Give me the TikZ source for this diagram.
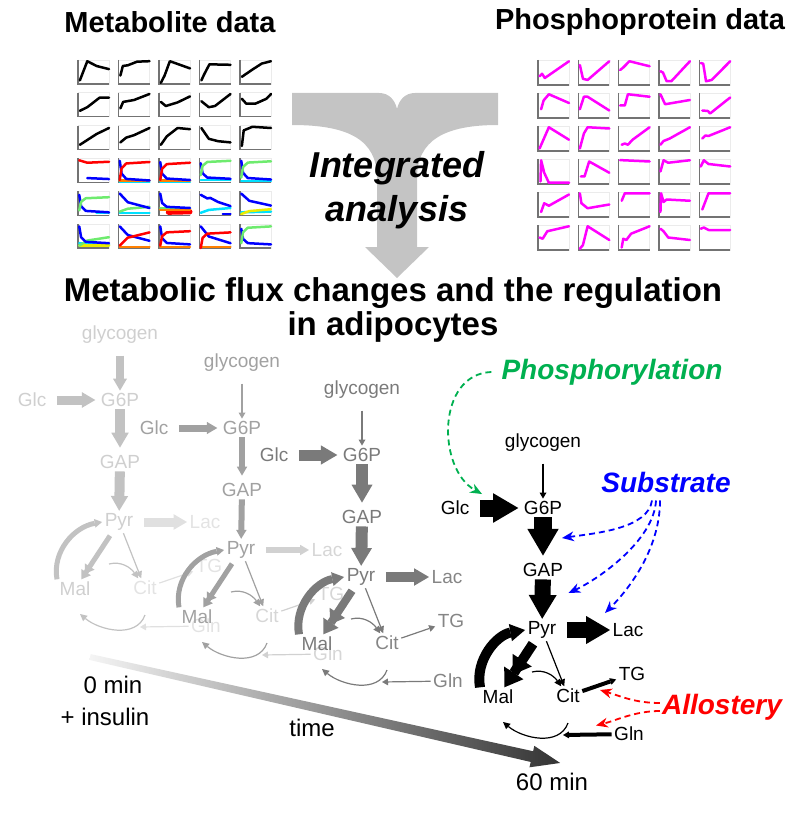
\documentclass[tikz,border=0pt]{standalone}
\usepackage{fontspec}
\setmainfont{Liberation Sans}
\usetikzlibrary{arrows.meta, positioning, calc}

\definecolor{phosgreen}{RGB}{0,176,80}
\definecolor{lgreen}{RGB}{110,235,110}
\definecolor{pmag}{RGB}{255,0,255}
\definecolor{pcyan}{RGB}{0,225,255}
\definecolor{pyellow}{RGB}{235,235,0}
\definecolor{porange}{RGB}{255,128,0}
\definecolor{tgray}{RGB}{196,196,196}

\newcommand\mcell[3]{%
  \begin{scope}[shift={({78+40.5*#1},{-84-32.8*#2})},x=31pt,y=24pt]
    \draw[plotframe] (0,0) rectangle (1,1);
    \draw[plotaxis] (0,1) -- (0,0) -- (1,0);
    #3
  \end{scope}}
\newcommand\pcell[3]{%
  \begin{scope}[shift={({538+40.3*#1},{-85-33*#2})},x=31pt,y=25pt]
    \draw[plotframe] (0,0) rectangle (1,1);
    \draw[plotaxis] (0,1) -- (0,0) -- (1,0);
    \draw[mk,pmag] #3;
  \end{scope}}
\newcommand\csat[3]{\draw[mk,#1] (.04,#2) -- (.1,{#2+.65*(#3-#2)}) -- (.25,{#2+.92*(#3-#2)}) -- (1,#3);}
\newcommand\cslow[3]{\draw[mk,#1] (.04,#2) -- (.3,{#2+.6*(#3-#2)}) -- (1,#3);}
\newcommand\clin[3]{\draw[mk,#1] (.04,#2) -- (1,#3);}

\begin{document}
\begin{tikzpicture}[x=1pt, y=1pt,
  plotframe/.style={draw=black!8, line width=.6pt},
  plotaxis/.style={draw=black!55, line width=1.4pt},
  mk/.style={line width=2.5pt, line join=round, line cap=round},
  met/.style={font=\fontsize{19}{21}\selectfont, inner sep=2.5pt},
  bigtitle/.style={font=\bfseries\fontsize{29}{31}\selectfont},
  reg/.style={font=\bfseries\itshape\fontsize{28}{30}\selectfont, inner sep=2pt},
  tlab/.style={font=\fontsize{24}{26}\selectfont, inner sep=2pt},
  tflux/.style={line width=1.2pt, -{Triangle[width=7pt,length=7pt,line width=0pt]}},
  preg/.style={line width=1.8pt, dash pattern=on 6pt off 4pt, -{Stealth[length=12pt,width=10pt,line width=0pt]}},
  flux/.code={%
    \pgfmathsetmacro\fluxh{max(1.75*#1,7)}%
    \pgfmathsetmacro\fluxl{max(0.85*\fluxh,6)}%
    \edef\fluxset{\noexpand\tikzset{line width=#1pt,-{Triangle[width=\fluxh pt,length=\fluxl pt,line width=0pt]}}}%
    \fluxset},
  jflux/.code={%
    \pgfmathsetmacro\fluxh{max(2.3*#1,8)}%
    \pgfmathsetmacro\fluxl{0.75*\fluxh}%
    \edef\fluxset{\noexpand\tikzset{line width=#1pt,-{Triangle[width=\fluxh pt,length=\fluxl pt,line width=0pt,sep=-2pt]Triangle[width=\fluxh pt,length=\fluxl pt,line width=0pt]}}}%
    \fluxset}]
  \useasboundingbox (0,0) rectangle (800,-813);

  \node[bigtitle] (metdata) at (170,-22) {Metabolite data};
  \node[bigtitle] (phosdata) at (640,-22) {Phosphoprotein data};

  % metabolite time courses
  \mcell{0}{0}{\draw[mk] (.06,.15) -- (.3,.95) -- (.6,.75) -- (1,.62);}
  \mcell{1}{0}{\draw[mk] (.06,.35) -- (.14,.75) -- (.3,.78) -- (.6,.93) -- (1,.95);}
  \mcell{2}{0}{\draw[mk] (.06,.05) -- (.18,.35) -- (.35,.95) -- (1,.65);}
  \mcell{3}{0}{\draw[mk] (.06,.15) -- (.15,.4) -- (.32,.82) -- (1,.8);}
  \mcell{4}{0}{\draw[mk] (.06,.3) -- (.4,.6) -- (.7,.85) -- (1,.95);}
  \mcell{0}{1}{\draw[mk] (.06,.25) -- (.3,.4) -- (.7,.8) -- (1,.8);}
  \mcell{1}{1}{\draw[mk] (.06,.35) -- (.15,.62) -- (.5,.7) -- (1,.95);}
  \mcell{2}{1}{\draw[mk] (.06,.62) -- (.22,.45) -- (.6,.6) -- (1,.85);}
  \mcell{3}{1}{\draw[mk] (.06,.65) -- (.3,.4) -- (.5,.45) -- (1,.95);}
  \mcell{4}{1}{\draw[mk] (.06,.75) -- (.2,.55) -- (.5,.55) -- (.85,.75) -- (1,.95);}
  \mcell{0}{2}{\draw[mk] (.06,.2) -- (.3,.4) -- (.6,.65) -- (1,.9);}
  \mcell{1}{2}{\draw[mk] (.06,.3) -- (.25,.5) -- (.5,.6) -- (1,.9);}
  \mcell{2}{2}{\draw[mk] (.06,.2) -- (.25,.55) -- (.6,.9) -- (1,.85);}
  \mcell{3}{2}{\draw[mk] (.06,.9) -- (.3,.45) -- (.6,.35) -- (1,.3);}
  \mcell{4}{2}{\draw[mk] (.06,.15) -- (.12,.8) -- (.4,.95) -- (1,.9);}
  \mcell{0}{3}{\draw[mk,red] (.04,.92) -- (.3,.82) -- (1,.86); \draw[mk,blue] (.3,.18) -- (1,.14);}
  \mcell{1}{3}{\clin{pcyan}{.02}{.02}\clin{porange}{.07}{.07}\csat{blue}{.9}{.08}\csat{red}{.1}{.85}}
  \mcell{2}{3}{\clin{pcyan}{.02}{.02}\clin{porange}{.07}{.07}\csat{blue}{.85}{.1}\csat{red}{.1}{.82}}
  \mcell{3}{3}{\clin{pcyan}{.1}{.1}\csat{blue}{.8}{.15}\csat{lgreen}{.3}{.9}}
  \mcell{4}{3}{\clin{pcyan}{.05}{.05}\csat{blue}{.9}{.12}\csat{lgreen}{.2}{.88}}
  \mcell{0}{4}{\draw[mk,pcyan] (.6,.1) -- (1,.1); \csat{blue}{.85}{.12}\csat{lgreen}{.2}{.75}}
  \mcell{1}{4}{\clin{pcyan}{.1}{.1}\cslow{lgreen}{.15}{.35}\cslow{blue}{.9}{.3}}
  \mcell{2}{4}{\draw[mk,red,line width=5pt] (.3,.12) -- (1,.14); \clin{porange}{.24}{.24}\clin{lgreen}{.3}{.3}\csat{blue}{.9}{.3}}
  \mcell{3}{4}{\draw[mk,blue] (.75,.06) -- (1,.06); \cslow{pcyan}{.1}{.3}\draw[mk,blue] (.04,.85) -- (.25,.7) -- (.35,.72) -- (.6,.55) -- (1,.38);}
  \mcell{4}{4}{\clin{pcyan}{.12}{.15}\cslow{pyellow}{.05}{.25}\cslow{blue}{.9}{.4}}
  \mcell{0}{5}{\clin{pcyan}{.2}{.15}\clin{pyellow}{.1}{.1}\cslow{lgreen}{.1}{.45}\csat{blue}{.9}{.2}}
  \mcell{1}{5}{\clin{porange}{.05}{.05}\cslow{blue}{.9}{.3}\cslow{red}{.1}{.65}}
  \mcell{2}{5}{\clin{porange}{.05}{.05}\csat{blue}{.9}{.15}\csat{red}{.1}{.7}}
  \mcell{3}{5}{\clin{porange}{.05}{.05}\cslow{blue}{.9}{.2}\csat{red}{0}{.65}}
  \mcell{4}{5}{\csat{blue}{.8}{.15}\csat{lgreen}{.2}{.9}}

  % phosphoprotein time courses
  \pcell{0}{0}{(.05,.35) -- (.13,.45) -- (.22,.28) -- (1,.95)}
  \pcell{1}{0}{(.05,.8) -- (.15,.25) -- (.3,.2) -- (1,.95)}
  \pcell{2}{0}{(.05,.6) -- (.15,.7) -- (.35,.95) -- (1,.75)}
  \pcell{3}{0}{(.05,.55) -- (.13,.5) -- (.25,.15) -- (.4,.15) -- (1,.95)}
  \pcell{4}{0}{(.05,.88) -- (.13,.85) -- (.22,.15) -- (.4,.2) -- (1,.95)}
  \pcell{0}{1}{(.1,.35) -- (.18,.7) -- (.35,.95) -- (1,.6)}
  \pcell{1}{1}{(.05,.35) -- (.18,.85) -- (.3,.85) -- (1,.3)}
  \pcell{2}{1}{(.05,.5) -- (.2,.5) -- (.3,.95) -- (1,.85)}
  \pcell{3}{1}{(.05,.95) -- (.2,.55) -- (1,.72)}
  \pcell{4}{1}{(.1,.3) -- (.28,.28) -- (.35,.18) -- (1,.82)}
  \pcell{0}{2}{(.05,.1) -- (.35,.95) -- (1,.45)}
  \pcell{1}{2}{(.05,.1) -- (.18,.7) -- (.3,.95) -- (1,.9)}
  \pcell{2}{2}{(.1,.25) -- (.2,.3) -- (.3,.25) -- (.45,.45) -- (1,.95)}
  \pcell{3}{2}{(.05,.25) -- (.15,.4) -- (.35,.5) -- (1,.95)}
  \pcell{4}{2}{(.1,.5) -- (.2,.62) -- (.3,.6) -- (1,.95)}
  \pcell{0}{3}{(.08,.1) -- (.1,.95) -- (.2,.45) -- (.35,.05) -- (1,.05)}
  \pcell{1}{3}{(.08,.3) -- (.2,.3) -- (.35,.9) -- (1,.45)}
  \pcell{2}{3}{(.05,.95) -- (.15,.95) -- (1,.9)}
  \pcell{3}{3}{(.05,.5) -- (.15,.95) -- (.3,.85) -- (1,.95)}
  \pcell{4}{3}{(.05,.7) -- (.15,.95) -- (.3,.8) -- (1,.7)}
  \pcell{0}{4}{(.1,.2) -- (.2,.55) -- (.35,.45) -- (1,.9)}
  \pcell{1}{4}{(.05,.95) -- (.1,.55) -- (.3,.35) -- (1,.5)}
  \pcell{2}{4}{(.1,.65) -- (.2,.95) -- (1,.95)}
  \pcell{3}{4}{(.05,.2) -- (.07,.95) -- (.15,.6) -- (.25,.7) -- (1,.65)}
  \pcell{4}{4}{(.1,.3) -- (.3,.95) -- (1,.95)}
  \pcell{0}{5}{(.05,.5) -- (.15,.45) -- (.3,.75) -- (1,.95)}
  \pcell{1}{5}{(.05,.05) -- (.15,.2) -- (.3,.95) -- (1,.4)}
  \pcell{2}{5}{(.1,.1) -- (.15,.45) -- (.25,.4) -- (.4,.65) -- (1,.95)}
  \pcell{3}{5}{(.05,.85) -- (.15,.75) -- (.3,.5) -- (1,.4)}
  \pcell{4}{5}{(.05,.85) -- (.15,.9) -- (.3,.8) -- (1,.8)}

  \fill[tgray] (292,-93) -- (379,-93) .. controls (389,-93) and (395,-100) .. (397,-109)
    .. controls (399,-100) and (405,-93) .. (415,-93) -- (498,-93) -- (498,-125)
    .. controls (445,-125) and (417,-140) .. (417,-178) -- (417,-247) -- (429,-247)
    -- (397,-278) -- (365,-247) -- (377,-247) -- (377,-178)
    .. controls (377,-140) and (349,-125) .. (292,-125) -- cycle;
  \node[font=\bfseries\itshape\fontsize{36}{44}\selectfont, align=center] (intg) at (397,-190) {Integrated\\analysis};
  \node[font=\bfseries\fontsize{33}{34}\selectfont, align=center] (fluxtitle) at (393,-310)
    {Metabolic flux changes and the regulation\\in adipocytes};

  \begin{scope}[shift={(90,-657)}, rotate=-12.7]
    \shade[left color=black!4, right color=black!80] (0,-3) -- (453,-5.5) -- (453,-11)
      -- (482,0) -- (453,11) -- (453,5.5) -- (0,3) -- cycle;
  \end{scope}
  \node[tlab] (zero) at (113,-685) {0 min};
  \node[tlab, below=10pt of zero, xshift=-8pt] (insulin) {+ insulin};
  \node[tlab] (time) at (312,-728) {time};
  \node[tlab] (sixty) at (552,-782) {60 min};

  % metabolic networks, 0 min to 60 min
  \foreach \n/\x/\y/\tc/\fc/\ac/\fa/\wg/\wi/\wa/\wb/\wl/\wc/\wt in {
    a/120/-400/black!19/black!11/black!24/black!12/8/9/10/10/9/5/1.2,
    b/242/-428/black!37/black!16/black!37/black!18/1.2/7/6/6/6/5/1.2,
    c/362/-455/black!52/black!48/black!52/black!52/1.2/11/12/12/10/8/1.2,
    d/543/-508/black/black/black/black/1.2/17/18/16/16/10/4}{
    \node[met, text=\tc] (\n G6P) at (\x,\y) {G6P};
    \node[met, text=\tc] (\n gly) at (\x,\y+65) {glycogen};
    \node[met, text=\tc] (\n Glc) at (\x-88,\y) {Glc};
    \node[met, text=\tc] (\n GAP) at (\x,\y-62) {GAP};
    \node[met, text=\tc] (\n Pyr) at (\x-1,\y-122) {Pyr};
    \node[met, text=\fc] (\n Lac) at (\x+85,\y-122) {Lac};
    \node[met, text=\tc] (\n Mal) at (\x-45,\y-189) {Mal};
    \node[met, text=\fc] (\n Cit) at (\x+25,\y-188) {Cit};
    \node[met, text=\fc] (\n TG) at (\x+89,\y-166) {TG};
    \node[met, text=\fc] (\n Gln) at (\x+86,\y-226) {Gln};
    \coordinate (\n oaa) at (\x-11,\y-164);
    \coordinate (\n gin) at (\x+20,\y-227);
    \coordinate (\n cb) at (\x+25,\y-215);
    \coordinate (\n mb) at (\x-40,\y-214);
    \draw[flux=\wg, color=\ac, shorten <=9pt] (\n gly) -- (\n G6P);
    \draw[flux=\wi, color=\ac, shorten <=8pt, shorten >=3pt] (\n Glc) -- (\n G6P);
    \draw[flux=\wa, color=\ac, shorten >=5pt] (\n G6P) -- (\n GAP);
    \draw[flux=\wb, color=\ac] (\n GAP) -- (\n Pyr);
    \draw[flux=\wl, color=\fa, shorten <=8pt] (\n Pyr) -- (\n Lac);
    \draw[flux=\wc, color=\ac] (\n Mal.north west) to[out=100,in=190] (\n Pyr.west);
    \draw[jflux=\wc, color=\ac, shorten <=3pt] (\n Pyr) -- (\n Mal);
    \draw[tflux, color=\ac] (\n Pyr) -- (\n Cit);
    \draw[tflux, color=\ac] (\n oaa) to[out=15,in=125] (\n Cit);
    \draw[tflux, color=\ac] (\n cb) to[out=-110,in=-40] (\n mb);
    \draw[flux=\wt, color=\fa] (\n Cit) -- (\n TG);
    \draw[flux=\wt, color=\fa] (\n Gln) -- (\n gin);
  }

  \node[reg, text=phosgreen] (phos) at (612,-372) {Phosphorylation};
  \node[reg, text=blue] (subs) at (666,-482) {Substrate};
  \node[reg, text=red] (allo) at (722,-707) {Allostery};
  \coordinate (hk) at ($(dGlc)!.5!(dG6P)+(-17,14)$);
  \coordinate (pfk) at ($(dG6P)!.5!(dGAP)+(19,1)$);
  \coordinate (pk) at ($(dGAP)!.5!(dPyr)+(26,7)$);
  \coordinate (ldh) at ($(dPyr)!.5!(dLac)+(20,17)$);
  \coordinate (tgs) at ($(dCit)!.5!(dTG)+(0,-5)$);
  \coordinate (glns) at ($(dGln)!.5!(dgin)+(0,9)$);
  \draw[preg, phosgreen] ([xshift=-8pt]phos.west) .. controls +(-55,-2) and +(-45,25) .. (hk);
  \draw[preg, blue] ([xshift=-14pt,yshift=-6pt]subs.south) .. controls +(-4,-28) and +(35,5) .. (pfk);
  \draw[preg, blue] ([xshift=-10pt,yshift=-6pt]subs.south) .. controls +(-2,-40) and +(30,14) .. (pk);
  \draw[preg, blue] ([xshift=-6pt,yshift=-6pt]subs.south) .. controls +(0,-50) and +(22,22) .. (ldh);
  \draw[preg, red] ([yshift=4pt]allo.west) .. controls +(-25,0) and +(20,-6) .. (tgs);
  \draw[preg, red] ([yshift=-4pt]allo.west) .. controls +(-25,0) and +(20,5) .. (glns);
\end{tikzpicture}
\end{document}
